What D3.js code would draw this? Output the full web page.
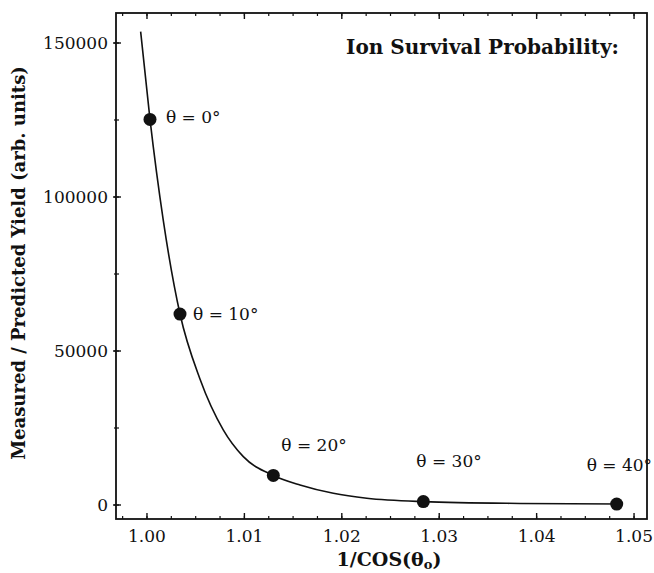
<!DOCTYPE html>
<html lang="en">
<head>
    <meta charset="UTF-8">
    <title>Ion Survival Probability</title>
    <script src="https://cdnjs.cloudflare.com/ajax/libs/d3/7.8.5/d3.min.js"></script>
    <style>
        body { margin: 0; background: #fff; }
        svg { display: block; }
        text { font-family: "DejaVu Serif", serif; fill: #111; }
    </style>
</head>
<body>
    <svg id="chart" width="654" height="573"></svg>
    <script>
        // measured points
        const angles = [0, 10, 20, 30, 40];
        const invCos = [1.00031, 1.00339, 1.01297, 1.02837, 1.04822];
        const yields = [125200, 62000, 9600, 1100, 300];

        // fitted curve
        const curveX = [0.99935, 1.00031, 1.00167, 1.00339, 1.00544, 1.00783, 1.00989,
                        1.01297, 1.01571, 1.01913, 1.02256, 1.02837, 1.0383, 1.04887];
        const curveY = [153700, 125200, 92500, 62000, 40900, 24400, 15700,
                        9600, 6500, 3800, 2200, 1100, 500, 300];

        const xTicks = [1.00, 1.01, 1.02, 1.03, 1.04, 1.05];
        const yTicks = [0, 50000, 100000, 150000];

        const svg = d3.select("#chart");
        const margin = { left: 116, top: 13, right: 7, bottom: 54 };
        const width = 654 - margin.left - margin.right;
        const height = 573 - margin.top - margin.bottom;

        const g = svg.append("g").attr("transform", `translate(${margin.left},${margin.top})`);

        const x = d3.scaleLinear().domain([0.99682, 1.05133]).range([0, width]);
        const y = d3.scaleLinear().domain([-4545, 159740]).range([height, 0]);

        const xMinor = d3.range(0.9975, 1.051, 0.0025);
        const yMinor = d3.range(0, 159000, 25000);

        // bottom axis: ticks pointing in
        const bottomAxis = g.append("g").attr("transform", `translate(0,${height})`);
        bottomAxis.selectAll("line.minor").data(xMinor).enter().append("line")
            .attr("x1", d => x(d)).attr("x2", d => x(d))
            .attr("y1", 0).attr("y2", -3)
            .attr("stroke", "#111").attr("stroke-width", 1.2);
        bottomAxis.selectAll("line.major").data(xTicks).enter().append("line")
            .attr("x1", d => x(d)).attr("x2", d => x(d))
            .attr("y1", 0).attr("y2", -6)
            .attr("stroke", "#111").attr("stroke-width", 1.4);
        bottomAxis.selectAll("text").data(xTicks).enter().append("text")
            .attr("x", d => x(d)).attr("y", 23)
            .attr("text-anchor", "middle")
            .attr("font-size", "17px")
            .text(d => d.toFixed(2));

        // top axis ticks
        const topAxis = g.append("g");
        topAxis.selectAll("line.minor").data(xMinor).enter().append("line")
            .attr("x1", d => x(d)).attr("x2", d => x(d))
            .attr("y1", 0).attr("y2", 3)
            .attr("stroke", "#111").attr("stroke-width", 1.2);
        topAxis.selectAll("line.major").data(xTicks).enter().append("line")
            .attr("x1", d => x(d)).attr("x2", d => x(d))
            .attr("y1", 0).attr("y2", 6)
            .attr("stroke", "#111").attr("stroke-width", 1.4);

        // left axis
        const leftAxis = g.append("g");
        leftAxis.selectAll("line.minor").data(yMinor).enter().append("line")
            .attr("x1", -2).attr("x2", 3)
            .attr("y1", d => y(d)).attr("y2", d => y(d))
            .attr("stroke", "#111").attr("stroke-width", 1.2);
        leftAxis.selectAll("line.major").data(yTicks).enter().append("line")
            .attr("x1", -3).attr("x2", 5)
            .attr("y1", d => y(d)).attr("y2", d => y(d))
            .attr("stroke", "#111").attr("stroke-width", 1.4);
        leftAxis.selectAll("text").data(yTicks).enter().append("text")
            .attr("x", -8).attr("y", d => y(d))
            .attr("dy", "0.36em")
            .attr("text-anchor", "end")
            .attr("font-size", "17px")
            .text(d => d);

        // frame
        g.append("rect")
            .attr("width", width).attr("height", height)
            .attr("fill", "none").attr("stroke", "#111").attr("stroke-width", 1.8);

        // fit curve
        const line = d3.line()
            .x(d => x(d[0]))
            .y(d => y(d[1]))
            .curve(d3.curveMonotoneX);
        g.append("path")
            .datum(d3.zip(curveX, curveY))
            .attr("d", line)
            .attr("fill", "none")
            .attr("stroke", "#111")
            .attr("stroke-width", 1.6);

        // points
        const pts = d3.zip(invCos, yields, angles);
        g.selectAll("circle").data(pts).enter().append("circle")
            .attr("cx", d => x(d[0])).attr("cy", d => y(d[1]))
            .attr("r", 6.5).attr("fill", "#111");

        // label offsets relative to each point (px)
        const labelOff = [[16, 4], [13, 6], [8, -24], [-7, -35], [-30, -33]];
        g.selectAll("text.lbl").data(pts).enter().append("text")
            .attr("class", "lbl")
            .attr("x", (d, i) => x(d[0]) + labelOff[i][0])
            .attr("y", (d, i) => y(d[1]) + labelOff[i][1])
            .attr("font-size", "17px")
            .text(d => `θ = ${d[2]}°`);

        // titles
        svg.append("text")
            .attr("x", 619).attr("y", 54)
            .attr("text-anchor", "end")
            .attr("font-size", "20px")
            .attr("font-weight", "bold")
            .text("Ion Survival Probability:");

        const xt = svg.append("text")
            .attr("x", 389).attr("y", 566)
            .attr("text-anchor", "middle")
            .attr("font-size", "19px")
            .attr("font-weight", "bold");
        xt.append("tspan").text("1/COS(θ");
        xt.append("tspan").attr("font-size", "13px").attr("dy", 3).text("o");
        xt.append("tspan").attr("dy", -3).text(")");

        svg.append("text")
            .attr("transform", "translate(25,263) rotate(-90)")
            .attr("text-anchor", "middle")
            .attr("font-size", "18px")
            .attr("font-weight", "bold")
            .text("Measured / Predicted Yield (arb. units)");
    </script>
</body>
</html>
